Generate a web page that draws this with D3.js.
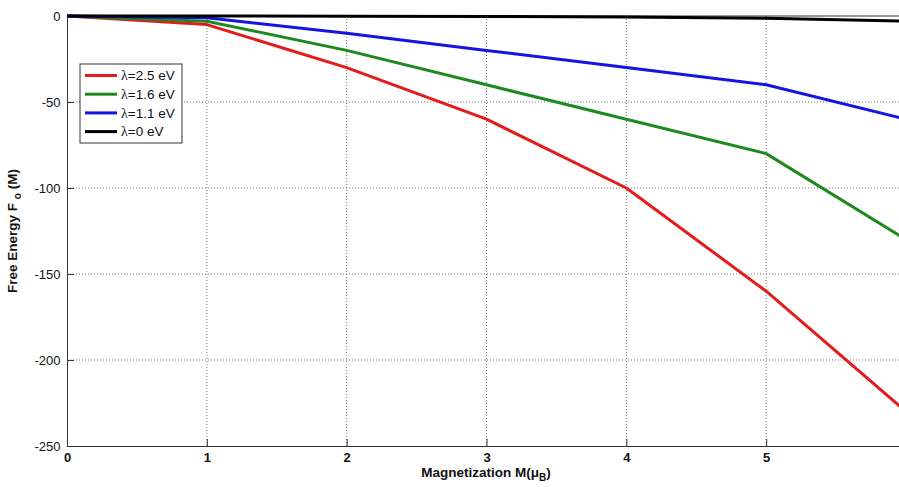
<!DOCTYPE html>
<html>
<head>
<meta charset="utf-8">
<script src="https://cdn.jsdelivr.net/npm/d3@7"></script>
<style>
  body { margin: 0; background: #fff; }
  svg { display: block; font-family: "Liberation Sans", Arial, sans-serif; }
</style>
</head>
<body>
<div id="chart"></div>
<script>
// magnetization values (x)
const magnetization = [0, 1, 2, 3, 4, 5, 6];

// free energy per lambda
const seriesNames = ["=2.5 eV", "=1.6 eV", "=1.1 eV", "=0 eV"];
const lambda25 = [0, -5, -30, -60, -100, -160, -230];
const lambda16 = [0, -3, -20, -40, -60, -80, -130];
const lambda11 = [0, -1, -10, -20, -30, -40, -60];
const lambda0 = [0, 0, -0.1, -0.3, -0.6, -1.3, -3];

const xTicks = [0, 1, 2, 3, 4, 5];
const yTicks = [0, -50, -100, -150, -200, -250];

const colors = ["#e31b1b", "#1e8a1e", "#1515e0", "#000000"];

let width = 899, height = 487;

let svg = d3.select("#chart").append("svg")
    .attr("width", width)
    .attr("height", height);

let x = d3.scaleLinear()
    .domain([0, 6])
    .range([67, 906]);

let y = d3.scaleLinear()
    .domain([-250, 0])
    .range([446, 16]);

// grid lines (dotted)
svg.append("g")
    .selectAll("line")
    .data(xTicks.slice(1))
    .enter()
    .append("line")
    .attr("x1", d => x(d)).attr("x2", d => x(d))
    .attr("y1", y(0)).attr("y2", y(-250))
    .attr("stroke", "#777")
    .attr("stroke-width", 1)
    .attr("stroke-dasharray", "1,2");

svg.append("g")
    .selectAll("line")
    .data(yTicks.slice(1, -1))
    .enter()
    .append("line")
    .attr("x1", x(0)).attr("x2", x(6))
    .attr("y1", d => y(d)).attr("y2", d => y(d))
    .attr("stroke", "#777")
    .attr("stroke-width", 1)
    .attr("stroke-dasharray", "1,2");

// axes
let xAxis = d3.axisBottom(x)
    .tickValues(xTicks)
    .tickSizeInner(-7)
    .tickSizeOuter(0)
    .tickPadding(8)
    .tickFormat(d3.format("d"));

let yAxis = d3.axisLeft(y)
    .tickValues(yTicks)
    .tickSizeInner(-7)
    .tickSizeOuter(0)
    .tickPadding(11)
    .tickFormat(d => d);

let gx = svg.append("g")
    .attr("transform", "translate(0," + y(-250) + ")")
    .call(xAxis);
gx.selectAll("text")
    .style("font-size", "13px")
    .style("font-weight", "bold")
    .attr("dy", "0.6em")
    .attr("fill", "#111");

let gy = svg.append("g")
    .attr("transform", "translate(" + x(0) + ",0)")
    .call(yAxis);
gy.selectAll("text")
    .style("font-size", "13px")
    .attr("dx", "0.35em")
    .attr("fill", "#111");

svg.selectAll(".domain").attr("stroke", "#333");
svg.selectAll(".tick line").attr("stroke", "#333");

// top box line
svg.append("line")
    .attr("x1", x(0)).attr("x2", x(6))
    .attr("y1", y(0)).attr("y2", y(0))
    .attr("stroke", "#333");

// series
let allSeries = [lambda25, lambda16, lambda11, lambda0];

let line = d3.line()
    .x((d, i) => x(magnetization[i]))
    .y(d => y(d));

svg.append("g")
    .selectAll("path")
    .data(allSeries)
    .enter()
    .append("path")
    .attr("d", d => line(d))
    .attr("fill", "none")
    .attr("stroke", (d, i) => colors[i])
    .attr("stroke-width", 3)
    .attr("stroke-linejoin", "round");

// legend
let legend = svg.append("g")
    .attr("transform", "translate(80,64)");

legend.append("rect")
    .attr("width", 102)
    .attr("height", 79)
    .attr("fill", "#fff")
    .attr("stroke", "#333");

legend.selectAll("line")
    .data(seriesNames)
    .enter()
    .append("line")
    .attr("x1", 5).attr("x2", 37)
    .attr("y1", (d, i) => 11.5 + i * 18.7)
    .attr("y2", (d, i) => 11.5 + i * 18.7)
    .attr("stroke", (d, i) => colors[i])
    .attr("stroke-width", 3);

let legendText = legend.selectAll("text")
    .data(seriesNames)
    .enter()
    .append("text")
    .attr("x", 41)
    .attr("y", (d, i) => 11.5 + i * 18.7)
    .attr("dy", "0.35em")
    .style("font-size", "13.5px")
    .attr("fill", "#111");
legendText.append("tspan")
    .style("font-family", "'Liberation Serif', 'DejaVu Serif', serif")
    .style("font-size", "14px")
    .text("λ");
legendText.append("tspan").text(d => d);

// axis titles
let xt = svg.append("text")
    .attr("x", 486)
    .attr("y", 477)
    .attr("text-anchor", "middle")
    .style("font-size", "13.5px")
    .style("font-weight", "bold")
    .attr("fill", "#111");
xt.append("tspan").text("Magnetization M(μ");
xt.append("tspan").attr("dy", 4).style("font-size", "10px").text("B");
xt.append("tspan").attr("dy", -4).text(")");

let yt = svg.append("text")
    .attr("transform", "translate(17,231) rotate(-90)")
    .attr("text-anchor", "middle")
    .style("font-size", "13.5px")
    .style("font-weight", "bold")
    .attr("fill", "#111");
yt.append("tspan").text("Free Energy F ");
yt.append("tspan").attr("dy", 4).style("font-size", "10px").text("o");
yt.append("tspan").attr("dy", -4).text(" (M)");
</script>
</body>
</html>
